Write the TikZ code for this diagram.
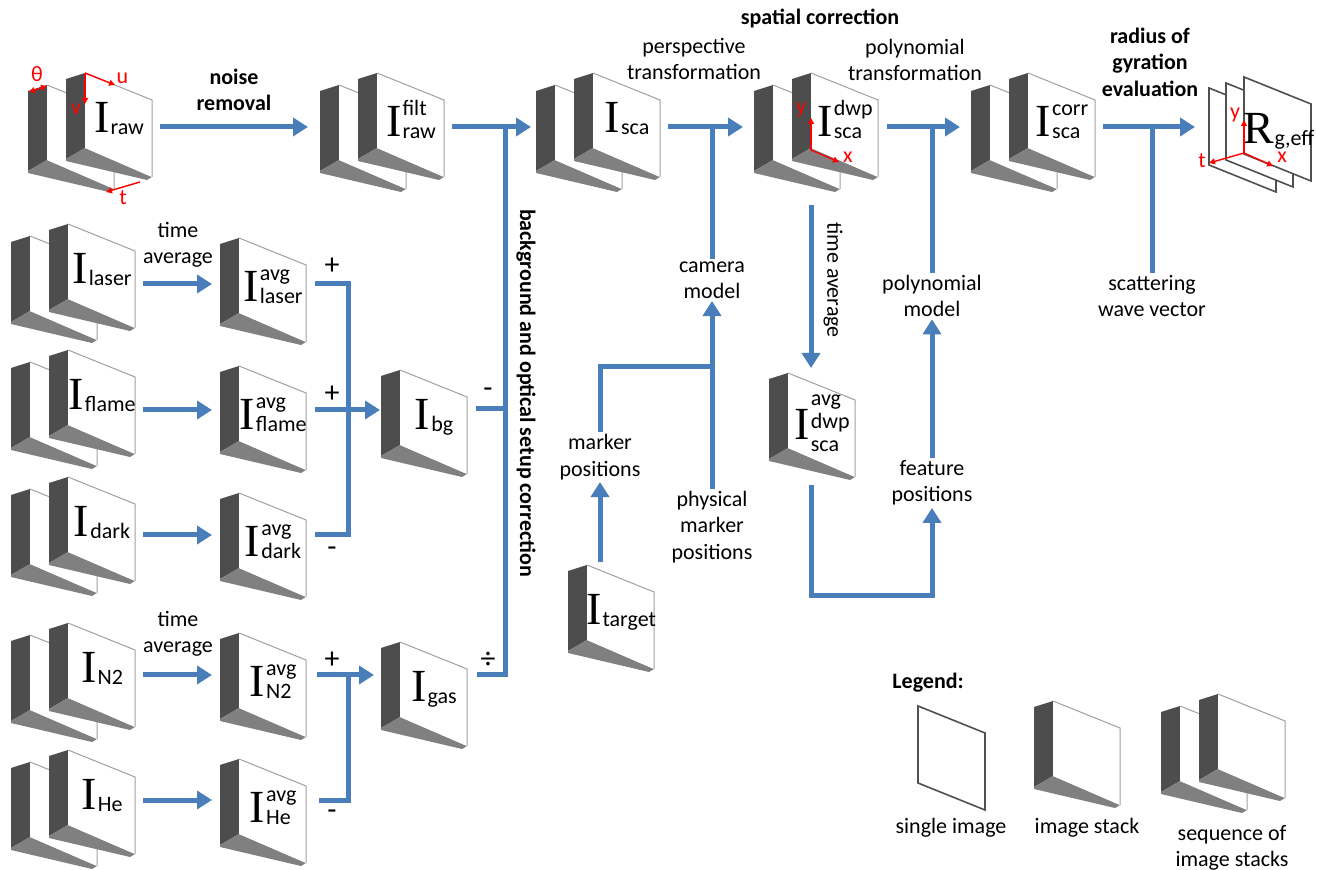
\documentclass[tikz,border=0pt]{standalone}
\usepackage{fontspec}
\setmainfont{Carlito}
\newfontfamily\serifI{Liberation Serif}
\usetikzlibrary{arrows.meta}
\definecolor{flowblue}{RGB}{74,126,187}
\definecolor{sidedark}{RGB}{77,77,77}
\definecolor{sidegray}{RGB}{128,128,128}
\definecolor{edgegray}{RGB}{160,160,160}
\definecolor{framegray}{RGB}{80,80,80}
\definecolor{axred}{RGB}{255,0,0}
% big serif letter with a column of sans indices
\newcommand\Ilab[2][-1pt]{{\fontsize{23}{23}\selectfont\serifI I}\kern0.6pt\raisebox{#1}{\begin{tabular}[b]{@{}l@{}}#2\end{tabular}}}
\tikzset{
  txt/.style={font=\fontsize{11}{13.2}\selectfont, align=center, inner sep=1pt},
  head/.style={txt, font=\fontsize{11}{13.2}\selectfont\bfseries},
  sign/.style={txt, font=\fontsize{15}{15}\selectfont},
  ilbl/.style={inner sep=0pt, font=\fontsize{11}{11.5}\selectfont},
  flow/.style={draw=flowblue, line width=2.5pt, -{Triangle[length=7.5pt,width=9pt]}},
  link/.style={draw=flowblue, line width=2.5pt},
  ax/.style={draw=axred, line width=0.7pt, -{Triangle[length=3pt,width=3pt]}},
  axlbl/.style={text=axred, font=\fontsize{11}{13}\selectfont, inner sep=0pt},
  pics/imgstack/.style={code={
    \fill[sidedark] (0,0) -- (-19,6) -- (-19,86) -- (0,75) -- cycle;
    \fill[sidegray] (0,75) -- (-19,86) -- (-19,88) -- (62,107) -- (67,104) -- cycle;
    \fill[white] (0,0) -- (67,27) -- (67,104) -- (0,75) -- cycle;
    \draw[edgegray, line width=0.5pt] (0,0) -- (67,27) -- (67,104);
  }},
  pics/imgseq/.style={code={
    \pic at (-38,12) {imgstack};
    \pic at (0,0) {imgstack};
  }},
  pics/imgframe/.style={code={
    \filldraw[fill=white, draw=framegray, line width=0.8pt] (0,0) -- (67,27) -- (67,104) -- (0,77) -- cycle;
  }},
}
\begin{document}
\begin{tikzpicture}[x=0.5pt, y=-0.5pt]
\useasboundingbox (0,0) rectangle (1317,870);

% top row
\pic at (85,73) {imgseq};
\pic at (377,73) {imgseq};
\pic at (593,73) {imgseq};
\pic at (811,73) {imgseq};
\pic at (1028,73) {imgseq};
\pic at (1209,88) {imgframe};
\pic at (1226,83) {imgframe};
\pic at (1244,77) {imgframe};

% left block
\pic at (68,224) {imgseq};
\pic at (68,350) {imgseq};
\pic at (68,477) {imgseq};
\pic at (68,623) {imgseq};
\pic at (68,750) {imgseq};
\pic at (239,238) {imgstack};
\pic at (239,366) {imgstack};
\pic at (239,493) {imgstack};
\pic at (239,633) {imgstack};
\pic at (239,759) {imgstack};
\pic at (400,370) {imgstack};
\pic at (400,642) {imgstack};

% middle
\pic at (587,565) {imgstack};
\pic at (788,373) {imgstack};

% image labels
\node[ilbl] (raw) at (119,122) {\Ilab{raw}};
\node[ilbl] (filt) at (411,122) {\Ilab{filt\\raw}};
\node[ilbl] (sca) at (627,122) {\Ilab{sca}};
\node[ilbl] (dwp) at (845,122) {\Ilab{dwp\\sca}};
\node[ilbl] (corr) at (1062,122) {\Ilab{corr\\sca}};
\node[ilbl] (Rg) at (1279,131) {{\fontsize{23}{23}\selectfont\serifI R}\raisebox{-1pt}{g,eff}};
\node[ilbl] (laser) at (102,273) {\Ilab{laser}};
\node[ilbl] (flame) at (102,399) {\Ilab{flame}};
\node[ilbl] (dark) at (102,526) {\Ilab{dark}};
\node[ilbl] (N2) at (102,672) {\Ilab{N2}};
\node[ilbl] (He) at (102,799) {\Ilab{He}};
\node[ilbl] (laseravg) at (273,287) {\Ilab{avg\\laser}};
\node[ilbl] (flameavg) at (273,415) {\Ilab{avg\\flame}};
\node[ilbl] (darkavg) at (273,542) {\Ilab{avg\\dark}};
\node[ilbl] (N2avg) at (273,682) {\Ilab{avg\\N2}};
\node[ilbl] (Heavg) at (273,808) {\Ilab{avg\\He}};
\node[ilbl] (bg) at (434,419) {\Ilab{bg}};
\node[ilbl] (gas) at (434,691) {\Ilab{gas}};
\node[ilbl] (target) at (621,614) {\Ilab{target}};
\node[ilbl] (dwpavg) at (822,424) {\Ilab[-6pt]{avg\\dwp\\sca}};

% red axes
\coordinate (uv0) at (85,73);
\draw[ax] (uv0) -- (115,85) node[axlbl, anchor=south west] (u) at (116,84) {u};
\draw[ax] (uv0) -- (85,104);
\node[axlbl] (v) at (76,109) {v};
\draw[axred, line width=0.7pt, {Triangle[length=3pt,width=3pt]}-{Triangle[length=3pt,width=3pt]}] (29,92) -- (47,86);
\node[axlbl] (th) at (37,74) {θ};
\draw[ax] (140,182) -- (106,192);
\node[axlbl] (t) at (123,198) {t};
\coordinate (xy0) at (811,150);
\draw[ax] (xy0) -- (811,118);
\draw[ax] (xy0) -- (839,162);
\node[axlbl] (y1) at (801,110) {y};
\node[axlbl] (x1) at (848,157) {x};
\coordinate (xyt0) at (1244,153);
\draw[ax] (xyt0) -- (1244,120);
\draw[ax] (xyt0) -- (1273,166);
\draw[ax] (xyt0) -- (1209,163);
\node[axlbl] (y2) at (1235,115) {y};
\node[axlbl] (x2) at (1282,157) {x};
\node[axlbl] (t2) at (1202,161) {t};

% texts
\node[head] (noise) at (234,90) {noise\\removal};
\node[txt] (tavg1) at (178,245) {time\\average};
\node[txt] (tavg2) at (178,634) {time\\average};
\node[txt] (persp) at (694,59) {perspective\\transformation};
\node[head] (spatial) at (820,19) {spatial correction};
\node[txt] (polyT) at (915,60) {polynomial\\transformation};
\node[head] (radius) at (1150,62) {radius of\\gyration\\evaluation};
\node[txt] (cam) at (712,280) {camera\\model};
\node[txt] (mark) at (600,457) {marker\\positions};
\node[txt] (phys) at (712,527) {physical\\marker\\positions};
\node[txt] (poly) at (932,296) {polynomial\\model};
\node[txt] (feat) at (932,483) {feature\\positions};
\node[txt] (scat) at (1152,296) {scattering\\wave vector};
\node[txt, rotate=-90] (tavg3) at (833,280) {time average};
\node[head, rotate=-90] (bgcorr) at (526,393) {background and optical setup correction};
\node[sign] (plus1) at (332,266) {+};
\node[sign] (plus2) at (332,394) {+};
\node[sign] (minus1) at (332,552) {-};
\node[sign] (minus2) at (488,393) {-};
\node[sign] (div) at (488,660) {÷};
\node[sign] (plus3) at (332,660) {+};
\node[sign] (minus3) at (332,815) {-};

% connector ends
\coordinate (raw-o) at (160,127);   \coordinate (filt-i) at (308,127);
\coordinate (filt-o) at (452,127);  \coordinate (sca-i) at (531,127);
\coordinate (sca-o) at (668,127);   \coordinate (dwp-i) at (743,127);
\coordinate (dwp-o) at (887,127);   \coordinate (corr-i) at (960,127);
\coordinate (corr-o) at (1103,127); \coordinate (Rg-i) at (1195,127);
\coordinate (bus-t) at (505,127);   \coordinate (bus-b) at (505,675);
\coordinate (bg-o) at (476,409);    \coordinate (gas-o) at (477,675);
\coordinate (dwp-d) at (811,205);   \coordinate (dwpavg-i) at (811,368);
\coordinate (dwpavg-o) at (811,485); \coordinate (fb) at (932,596);
\coordinate (target-o) at (600,562); \coordinate (mj) at (712,367);
\foreach \n/\y in {laser/284, flame/410, dark/535, N2/675, He/800}{
  \coordinate (\n-o) at (143,\y);
  \coordinate (\n avg-i) at (212,\y);
}
\coordinate (laseravg-o) at (315,284); \coordinate (flameavg-o) at (315,410);
\coordinate (darkavg-o) at (315,535);  \coordinate (N2avg-o) at (317,675);
\coordinate (Heavg-o) at (319,800);
\coordinate (bg-i) at (380,410);  \coordinate (gas-i) at (374,675);
\coordinate (sb-t) at (348,284);  \coordinate (sb-b) at (348,535);
\coordinate (sg-b) at (348,800);

% connectors
\draw[flow] (raw-o) -- (filt-i);
\draw[flow] (filt-o) -- (sca-i);
\draw[link] (gas-o) -- (bus-b) -- (bus-t);
\draw[link] (bg-o) -- (bg-o -| bus-t);
\draw[flow] (sca-o) -- (dwp-i);
\draw[link] (cam.north) -- (cam.north |- sca-o);
\draw[flow] (dwp-o) -- (corr-i);
\draw[link] (poly.north) -- (poly.north |- dwp-o);
\draw[flow] (corr-o) -- (Rg-i);
\draw[link] (scat.north) -- (scat.north |- corr-o);
\draw[flow] (dwp-d) -- (dwpavg-i);
\draw[flow] (dwpavg-o) |- (fb) -- (feat.south);
\draw[flow] (feat) -- (poly);
\draw[flow] (phys) -- (cam);
\draw[flow] (target-o) -- (mark.south);
\draw[link] (mark.north) |- (mj);
\foreach \n in {laser, flame, dark, N2, He}
  \draw[flow] (\n-o) -- (\n avg-i);
\draw[link] (laseravg-o) -- (sb-t) -- (sb-b) -- (darkavg-o);
\draw[flow] (flameavg-o) -- (bg-i);
\draw[flow] (N2avg-o) -- (gas-i);
\draw[link] (Heavg-o) -- (sg-b) -- (sg-b |- gas-i);

% legend
\node[head, anchor=west] (leg) at (890,683) {Legend:};
\pic at (918,706) {imgframe};
\pic at (1053,701) {imgstack};
\pic at (1218,694) {imgseq};
\node[txt] (l1) at (951,828) {single image};
\node[txt] (l2) at (1087,828) {image stack};
\node[txt] (l3) at (1232,848) {sequence of\\image stacks};
\end{tikzpicture}
\end{document}
